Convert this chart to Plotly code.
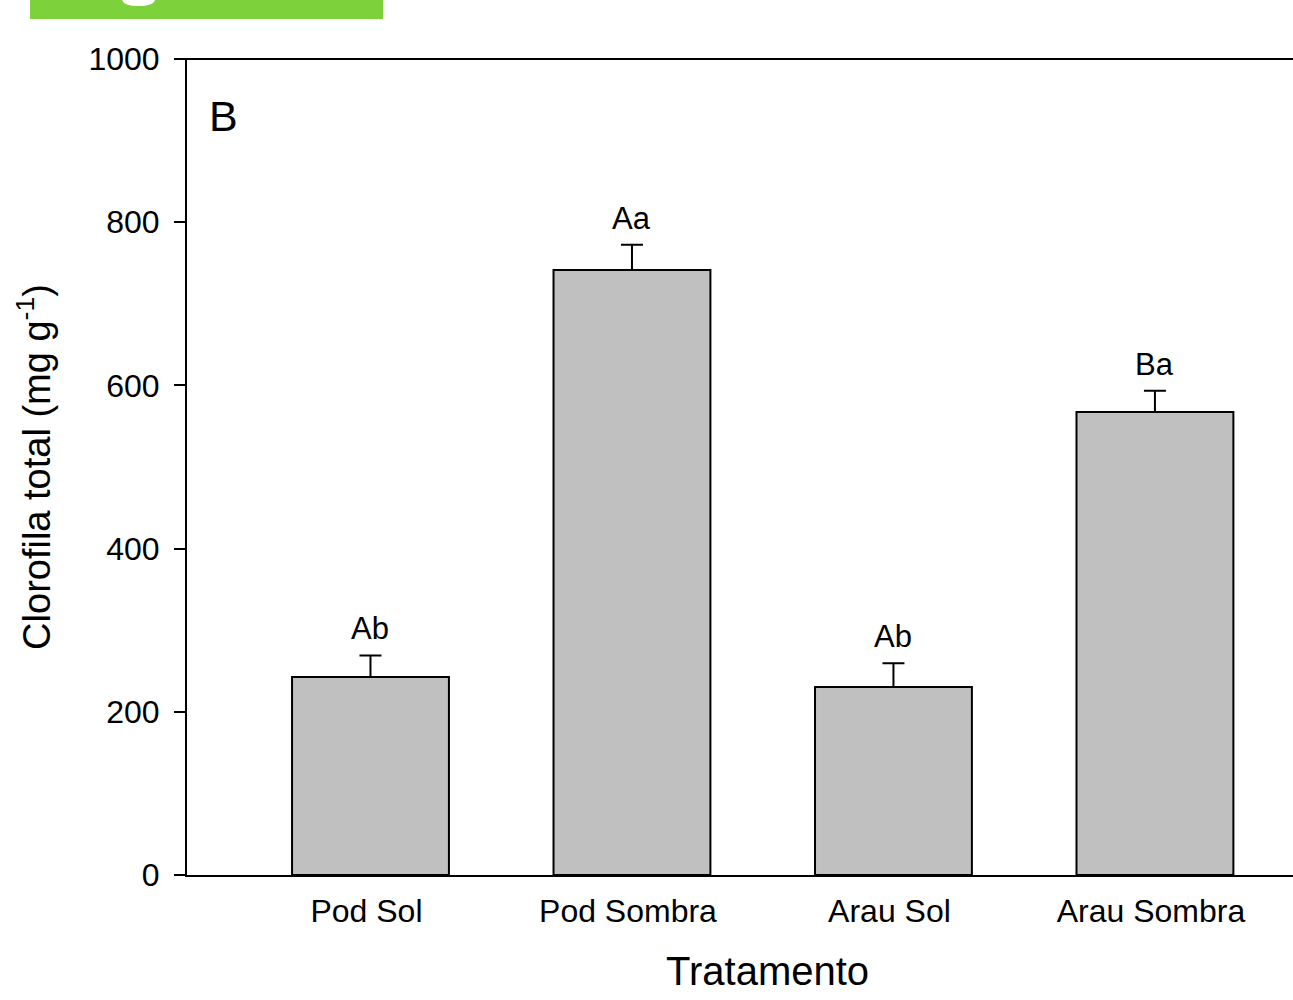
import plotly.graph_objects as go

categories = ["Pod Sol", "Pod Sombra", "Arau Sol", "Arau Sombra"]
values = [242.6, 741.4, 230.4, 567.4]
errors = [26.5, 31.0, 29.0, 26.0]
letters = ["Ab", "Aa", "Ab", "Ba"]
y_ticks = [0, 200, 400, 600, 800, 1000]

FONT = "Liberation Sans, Arial, sans-serif"
xpos = list(range(len(categories)))

fig = go.Figure()
fig.add_trace(go.Bar(
    x=xpos, y=values, width=0.6,
    marker=dict(color="#c0c0c0", line=dict(color="black", width=2)),
    error_y=dict(type="data", array=errors, arrayminus=[0]*4, symmetric=False,
                 color="black", thickness=2, width=11),
    showlegend=False,
))

for x, v, e, t in zip(xpos, values, errors, letters):
    fig.add_annotation(x=x, y=v + e, text=t, showarrow=False, yanchor="bottom",
                       yshift=7, font=dict(family=FONT, size=31, color="black"))

fig.add_annotation(xref="paper", yref="paper", x=0.018, y=0.930, text="B",
                   showarrow=False, xanchor="left", yanchor="middle",
                   font=dict(family=FONT, size=43, color="black"))

# x-axis title (centred as in the original, slightly right of the cropped plot centre)
fig.add_annotation(xref="paper", yref="paper", x=(767-187)/1106, y=-(971-875)/816,
                   text="Tratamento", showarrow=False, xanchor="center", yanchor="middle",
                   font=dict(family=FONT, size=40, color="black"))

# top frame line
fig.add_shape(type="line", xref="paper", yref="paper", x0=-11/1106, x1=1, y0=1, y1=1,
              line=dict(color="black", width=2))
# green header block
fig.add_shape(type="rect", xref="paper", yref="paper",
              x0=(30-187)/1106, x1=(383-187)/1106, y0=(875-19)/816, y1=875/816,
              fillcolor="#7dd13b", line=dict(width=0), layer="above")
fig.add_shape(type="path", xref="paper", yref="paper",
              path=f"M {(122-187)/1106},{875/816} Q {(124-187)/1106},{(875-6)/816} {(138-187)/1106},{(875-6)/816} Q {(153-187)/1106},{(875-6)/816} {(155-187)/1106},{875/816} Z",
              fillcolor="white", line=dict(width=0), layer="above")

fig.update_layout(
    width=1293, height=1000,
    margin=dict(l=187, r=0, t=59, b=125),
    paper_bgcolor="white", plot_bgcolor="white",
    font=dict(family=FONT, color="black"),
    bargap=0.4,
    xaxis=dict(range=[-0.7017, 3.528], tickmode="array", tickvals=xpos, ticktext=categories,
               showline=True, linecolor="black", linewidth=2, ticks="", showgrid=False,
               zeroline=False, tickfont=dict(size=32), ticklabelstandoff=7,
               ticklabelshift=-4),
    yaxis=dict(range=[0, 1000], tickmode="array", tickvals=y_ticks,
               showline=True, linecolor="black", linewidth=2, ticks="outside",
               ticklen=11, tickwidth=2, tickcolor="black", showgrid=False,
               zeroline=False, tickfont=dict(size=32), ticklabelstandoff=8,
               title=dict(text="Clorofila total (mg g<sup>-1</sup>)", font=dict(size=38), standoff=26)),
)

fig.write_html("out.html", config={"displayModeBar": False},
               post_script="document.body.style.margin='0';document.body.style.overflow='hidden';")
